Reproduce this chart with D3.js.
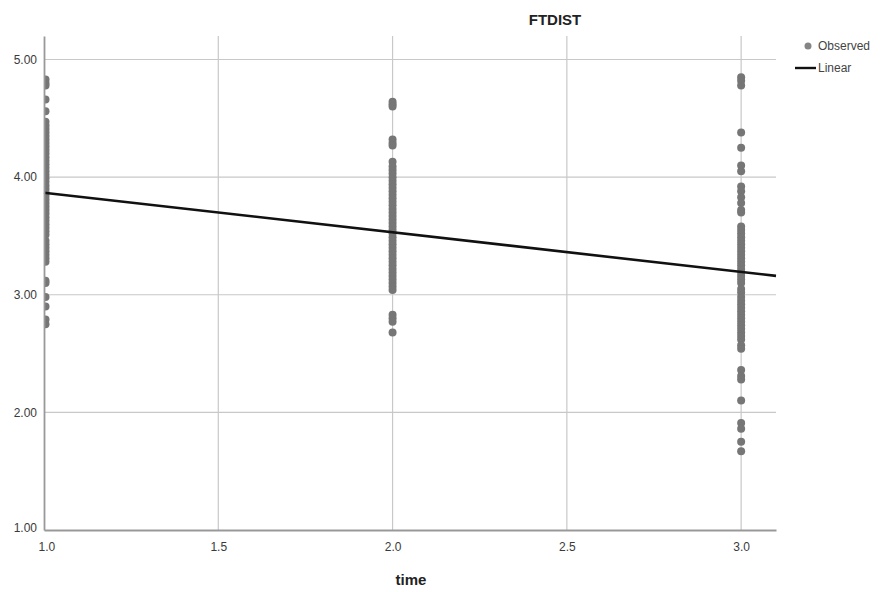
<!DOCTYPE html>
<html>
<head>
<meta charset="utf-8">
<script src="https://cdn.jsdelivr.net/npm/d3@7"></script>
<style>
    body { margin: 0; background: #fff; font-family: "Liberation Sans", Arial, sans-serif; }
    .axis text { font-size: 12px; fill: #3a3a3a; }
</style>
</head>
<body>
<div id="chart"></div>
<script>
// observed FTDIST values per time point
const time1 = [4.83, 4.80, 4.78, 4.66, 4.56, 4.47, 4.44, 4.41, 4.38, 4.35, 4.32, 4.29, 4.26, 4.23, 4.20, 4.17,
    4.14, 4.11, 4.08, 4.05, 4.02, 3.99, 3.96, 3.93, 3.90, 3.87, 3.84, 3.81, 3.78, 3.75, 3.72, 3.69, 3.66, 3.63,
    3.60, 3.57, 3.54, 3.51, 3.46, 3.43, 3.40, 3.37, 3.34, 3.31, 3.28, 3.12, 3.10, 2.98, 2.90, 2.79, 2.75];
const time2 = [4.64, 4.62, 4.60, 4.32, 4.29, 4.27, 4.13, 4.09, 4.06, 4.03, 4.00, 3.97, 3.94, 3.91, 3.88, 3.85,
    3.82, 3.79, 3.76, 3.73, 3.70, 3.67, 3.64, 3.61, 3.58, 3.55, 3.52, 3.49, 3.46, 3.43, 3.40, 3.37, 3.34, 3.31,
    3.28, 3.25, 3.22, 3.19, 3.16, 3.13, 3.10, 3.07, 3.04, 2.83, 2.80, 2.77, 2.68];
const time3 = [4.85, 4.82, 4.78, 4.38, 4.25, 4.10, 4.05, 3.92, 3.88, 3.83, 3.78, 3.72, 3.70, 3.58, 3.55, 3.52,
    3.49, 3.46, 3.43, 3.40, 3.37, 3.34, 3.31, 3.28, 3.25, 3.22, 3.19, 3.16, 3.13, 3.10, 3.05, 3.02, 2.98, 2.95,
    2.92, 2.89, 2.86, 2.83, 2.80, 2.77, 2.74, 2.71, 2.68, 2.65, 2.62, 2.57, 2.54, 2.36, 2.31, 2.28, 2.10, 1.91,
    1.86, 1.75, 1.67];

const timePoints = [1, 2, 3];
const xTicks = [1.0, 1.5, 2.0, 2.5, 3.0];
const yTicks = [1, 2, 3, 4, 5];

// linear fit
const fitIntercept = 4.205;
const fitSlope = -0.337;

let margin = {top: 36, right: 120, bottom: 62, left: 44};
let width = 896 - margin.left - margin.right,
    height = 592 - margin.top - margin.bottom;

let svg = d3.select("#chart").append("svg")
    .attr("width", 896)
    .attr("height", 592);

let g = svg.append("g")
    .attr("transform", "translate(" + margin.left + "," + margin.top + ")");

// points are clipped to the plot area, so the column at 1.0 shows only its right half
g.append("clipPath").attr("id", "plot-clip")
    .append("rect").attr("x", 0).attr("y", 0).attr("width", width).attr("height", height);

let x = d3.scaleLinear().domain([1, 3.1]).range([0, width]);
let y = d3.scaleLinear().domain([1, 5.2]).range([height, 0]);

// gridlines
g.selectAll(".hgrid")
    .data(yTicks.slice(1))
    .enter().append("line")
    .attr("class", "hgrid")
    .attr("x1", 0).attr("x2", width)
    .attr("y1", d => y(d)).attr("y2", d => y(d))
    .attr("stroke", "#c8c8c8").attr("stroke-width", 1.2);

g.selectAll(".vgrid")
    .data(xTicks.slice(1))
    .enter().append("line")
    .attr("class", "vgrid")
    .attr("x1", d => x(d)).attr("x2", d => x(d))
    .attr("y1", 0).attr("y2", height)
    .attr("stroke", "#c8c8c8").attr("stroke-width", 1.2);

// points
let points = [];
[time1, time2, time3].forEach(function(vals, i) {
    vals.forEach(v => points.push({t: timePoints[i], v: v}));
});

g.append("g").attr("clip-path", "url(#plot-clip)")
    .selectAll(".dot")
    .data(points)
    .enter().append("circle")
    .attr("class", "dot")
    .attr("cx", d => x(d.t) + (d.t === 1 ? 1.5 : 0))
    .attr("cy", d => y(d.v))
    .attr("r", 4)
    .attr("fill", "#767676");

// fit line
let line = d3.line().x(d => x(d)).y(d => y(fitIntercept + fitSlope * d));
g.append("path")
    .datum([1, 3.1])
    .attr("d", line)
    .attr("fill", "none")
    .attr("stroke", "#111")
    .attr("stroke-width", 2.6);

// axes
let xAxis = d3.axisBottom(x).tickValues(xTicks).tickFormat(d3.format(".1f")).tickSize(0).tickPadding(12);
let yAxis = d3.axisLeft(y).tickValues(yTicks).tickFormat(d3.format(".2f")).tickSize(0).tickPadding(7);

let xg = g.append("g").attr("class", "x-axis axis")
    .attr("transform", `translate(0,${height})`)
    .call(xAxis);
let yg = g.append("g").attr("class", "y-axis axis").call(yAxis);

xg.select(".domain").attr("stroke", "#999").attr("stroke-width", 1.8);
yg.select(".domain").attr("stroke", "#999").attr("stroke-width", 1.8);
yg.selectAll(".tick text").filter(d => d === 1).attr("dy", "0.1em");
xg.selectAll(".tick text").filter(d => d === 1).attr("dx", "0.2em");

// title and axis label
svg.append("text")
    .attr("x", 555).attr("y", 25)
    .attr("text-anchor", "middle")
    .style("font-size", "15px").style("font-weight", "bold").style("fill", "#222")
    .text("FTDIST");

svg.append("text")
    .attr("x", 411).attr("y", 585)
    .attr("text-anchor", "middle")
    .style("font-size", "15px").style("font-weight", "bold").style("fill", "#222")
    .text("time");

// legend
let legend = svg.append("g");
legend.append("circle").attr("cx", 808).attr("cy", 46).attr("r", 3.5).attr("fill", "#858585");
legend.append("text").attr("x", 818).attr("y", 50).style("font-size", "12px").style("fill", "#444").text("Observed");
legend.append("line").attr("x1", 795).attr("x2", 816).attr("y1", 68).attr("y2", 68)
    .attr("stroke", "#111").attr("stroke-width", 2.4);
legend.append("text").attr("x", 818).attr("y", 72).style("font-size", "12px").style("fill", "#444").text("Linear");
</script>
</body>
</html>
